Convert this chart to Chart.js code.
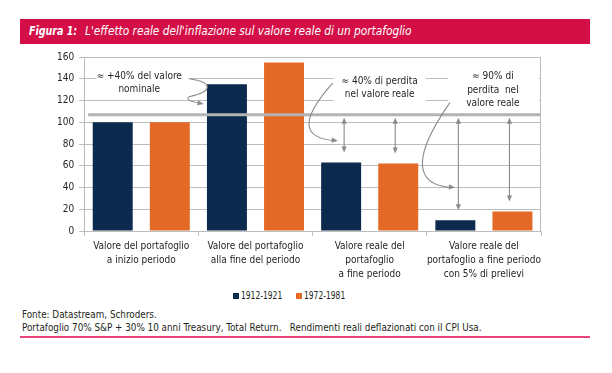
<!DOCTYPE html>
<html>
<head>
<meta charset="utf-8">
<script src="https://cdn.jsdelivr.net/npm/chart.js@4.4.1/dist/chart.umd.min.js"></script>
<style>
  body { margin: 0; background: #fff; width: 612px; height: 373px; position: relative; overflow: hidden;
         font-family: "DejaVu Sans Condensed", sans-serif; color: #231f20; }
  #testata { position: absolute; left: 20px; top: 19px; width: 570px; height: 25px; background: #d40f47;
             color: #fff; font-style: italic; font-size: 12px; line-height: 25px; white-space: nowrap; }
  #testata b { position: absolute; left: 9px; transform: scaleX(0.88); transform-origin: left; }
  #testata span { position: absolute; left: 65px; transform: scaleX(0.98); transform-origin: left; }
  #contenitore { position: absolute; left: 20px; top: 46px; width: 540px; height: 238px; }
  #legenda { position: absolute; top: 290px; left: 233px; display: flex;
             font-size: 10px; line-height: 12px; white-space: nowrap; }
  #legenda div { display: flex; align-items: center; width: 63px; }
  #legenda i { display: inline-block; width: 6px; height: 6px; margin-right: 2px; }
  #legenda span { display: inline-block; transform: scaleX(0.84); transform-origin: left; }
  #note { position: absolute; left: 22px; top: 308px; font-size: 10px; line-height: 13px; white-space: pre;
          transform: scaleX(0.98); transform-origin: left; }
  #linea-fondo { position: absolute; left: 20px; top: 336px; width: 570px; height: 1.5px; background: #e8457a; }
</style>
</head>
<body>
<div id="testata"><b>Figura 1:</b><span>L'effetto reale dell'inflazione sul valore reale di un portafoglio</span></div>
<div id="contenitore"><canvas id="grafico"></canvas></div>
<div id="legenda"></div>
<div id="note">Fonte: Datastream, Schroders.
Portafoglio 70% S&amp;P + 30% 10 anni Treasury, Total Return.   Rendimenti reali deflazionati con il CPI Usa.</div>
<div id="linea-fondo"></div>
<script>
// dati
const categorie = [
  ["Valore del portafoglio", "a inizio periodo"],
  ["Valore del portafoglio", "alla fine del periodo"],
  ["Valore reale del", "portafoglio", "a fine periodo"],
  ["Valore reale del", "portafoglio a fine periodo", "con 5% di prelievi"]
];
const serie1912 = [100, 135, 63, 10];
const serie1972 = [100, 155, 62, 18];
const etichetteSerie = ["1912-1921", "1972-1981"];
const tickY = [0, 20, 40, 60, 80, 100, 120, 140, 160];
const lineaRiferimento = 107;
const testoNominale = ["\u2248 +40% del valore", "nominale"];
const testoPerdita40 = ["\u2248 40% di perdita", "nel valore reale"];
const testoPerdita90 = ["\u2248 90% di", "perdita  nel", "valore reale"];

const BLU = "#0b2a4e";
const ARANCIO = "#e36a26";
const GRIGIO = "#bdbdbd";
const FRECCIA = "#8a8a8a";
const FONT = "'DejaVu Sans Condensed', sans-serif";

function punta(ctx, x, y, ang) {
  const l = 6, w = 2.6;
  ctx.save();
  ctx.translate(x, y);
  ctx.rotate(ang);
  ctx.beginPath();
  ctx.moveTo(0, 0);
  ctx.lineTo(-l, -w);
  ctx.lineTo(-l, w);
  ctx.closePath();
  ctx.fill();
  ctx.restore();
}

function riquadroTesto(ctx, righe, cx, ys, box) {
  ctx.fillStyle = "#fff";
  ctx.fillRect(box[0], box[1], box[2] - box[0], box[3] - box[1]);
  ctx.fillStyle = "#231f20";
  ctx.font = "10px " + FONT;
  ctx.textAlign = "center";
  ctx.textBaseline = "middle";
  righe.forEach((r, i) => ctx.fillText(r, cx, ys[i]));
}

const pluginAnnotazioni = {
  id: "annotazioni",
  afterDatasetsDraw(chart) {
    const ctx = chart.ctx;
    const sx = chart.scales.x, sy = chart.scales.y;
    const cx = (i) => sx.getPixelForValue(i);
    const py = (v) => sy.getPixelForValue(v);
    const area = chart.chartArea;

    ctx.save();
    // bordo destro del riquadro
    ctx.strokeStyle = GRIGIO;
    ctx.lineWidth = 1;
    ctx.beginPath();
    ctx.moveTo(area.right - 0.5, area.top);
    ctx.lineTo(area.right - 0.5, area.bottom);
    ctx.stroke();

    // linea di riferimento grigia spessa
    ctx.strokeStyle = "#b3b3b3";
    ctx.lineWidth = 3;
    ctx.beginPath();
    ctx.moveTo(area.left + 4, py(lineaRiferimento));
    ctx.lineTo(area.right, py(lineaRiferimento));
    ctx.stroke();

    // riquadri di testo
    riquadroTesto(ctx, testoNominale, cx(0) - 2, [py(142), py(130)],
      [cx(0) - 45, py(147), cx(0) + 47, py(124)]);
    riquadroTesto(ctx, testoPerdita40, cx(2) + 10, [py(137.5), py(125.5)],
      [cx(2) - 36, py(146), cx(2) + 56, py(118.5)]);
    riquadroTesto(ctx, testoPerdita90, cx(3) + 9, [py(142), py(129.5), py(117)],
      [cx(3) - 36, py(150), cx(3) + 55, py(110.5)]);

    // frecce curve
    ctx.strokeStyle = FRECCIA;
    ctx.fillStyle = FRECCIA;
    ctx.lineWidth = 1.1;

    ctx.beginPath();
    ctx.moveTo(cx(0) + 48, py(140));
    ctx.bezierCurveTo(cx(0) + 72, py(137), cx(0) + 72, py(128), cx(0) + 48, py(123.5));
    ctx.quadraticCurveTo(cx(0) + 42, py(120), cx(1) - 53, py(117));
    ctx.stroke();
    punta(ctx, cx(1) - 52, py(116.8), 0.2);

    ctx.beginPath();
    ctx.moveTo(cx(2) - 37, py(136));
    ctx.bezierCurveTo(cx(2) - 72, py(100), cx(2) - 66, py(85), cx(2) - 34, py(83));
    ctx.stroke();
    punta(ctx, cx(2) - 32, py(83), 0.1);

    ctx.beginPath();
    ctx.moveTo(cx(3) - 34, py(118));
    ctx.bezierCurveTo(cx(3) - 82, py(55), cx(3) - 58, py(41), cx(3) - 31, py(40));
    ctx.stroke();
    punta(ctx, cx(3) - 29, py(40), 0.1);

    // frecce doppie verticali
    [2, 3].forEach((i) => {
      [0, 1].forEach((d) => {
        const barra = chart.getDatasetMeta(d).data[i];
        const x = barra.x + (d === 0 ? 3 : -3);
        const alto = py(lineaRiferimento) + 3;
        const basso = barra.y - 10;
        ctx.beginPath();
        ctx.moveTo(x, alto + 4);
        ctx.lineTo(x, basso - 4);
        ctx.stroke();
        punta(ctx, x, alto, -Math.PI / 2);
        punta(ctx, x, basso, Math.PI / 2);
      });
    });
    ctx.restore();
  }
};

const grafico = new Chart(document.getElementById("grafico"), {
  type: "bar",
  data: {
    labels: categorie,
    datasets: [
      { label: etichetteSerie[0], data: serie1912, backgroundColor: BLU },
      { label: etichetteSerie[1], data: serie1972, backgroundColor: ARANCIO }
    ]
  },
  options: {
    responsive: true,
    maintainAspectRatio: false,
    animation: false,
    datasets: { bar: { categoryPercentage: 1, barPercentage: 0.7 } },
    layout: { padding: { left: 32, right: 19, top: 3, bottom: 0 } },
    plugins: {
      legend: { display: false },
      tooltip: { enabled: false }
    },
    scales: {
      x: {
        grid: { drawOnChartArea: false, drawTicks: true, tickLength: 5, color: GRIGIO, offset: true },
        border: { color: GRIGIO },
        ticks: { color: "#231f20", font: { family: FONT, size: 10, lineHeight: 1.4 }, padding: 3, maxRotation: 0, autoSkip: false }
      },
      y: {
        min: 0, max: 160,
        afterBuildTicks: (s) => { s.ticks = tickY.map((v) => ({ value: v })); },
        grid: { color: GRIGIO, tickLength: 5 },
        border: { color: GRIGIO },
        ticks: { color: "#231f20", font: { family: FONT, size: 10 }, padding: 5 }
      }
    }
  },
  plugins: [pluginAnnotazioni]
});

// legenda HTML costruita dai dataset
document.getElementById("legenda").innerHTML = grafico.data.datasets
  .map((d) => `<div><i style="background:${d.backgroundColor}"></i><span>${d.label}</span></div>`).join("");
</script>
</body>
</html>
